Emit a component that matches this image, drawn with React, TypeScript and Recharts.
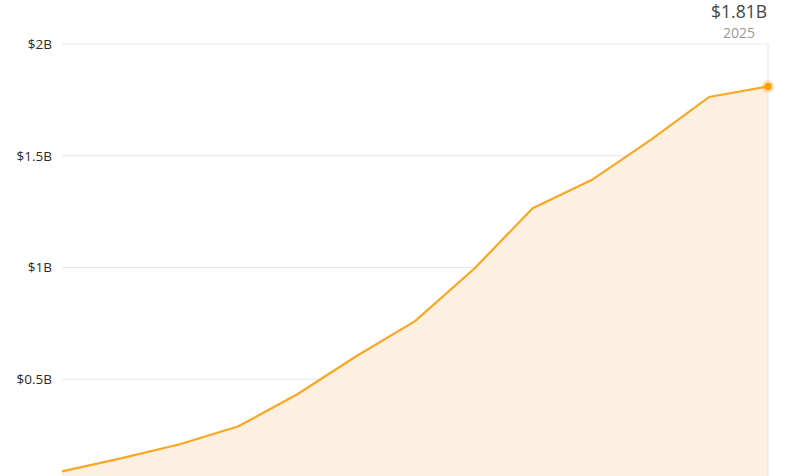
import React from 'react';
import { AreaChart, Area, XAxis, YAxis, CartesianGrid, ReferenceLine } from 'recharts';

const years = ['2013', '2014', '2015', '2016', '2017', '2018', '2019', '2020', '2021', '2022', '2023', '2024', '2025'];
const revenue = [0.088, 0.146, 0.209, 0.29, 0.433, 0.603, 0.76, 0.993, 1.265, 1.391, 1.57, 1.763, 1.81];
const yTicks = [0, 0.5, 1, 1.5, 2];

const data = years.map((year, i) => ({ year, value: revenue[i] }));

const LINE = '#F9A825';
const FILL = '#FDF0E0';

const formatTick = (v: number) => (v === 0 ? '' : `$${v}B`);

const LastDot = (props: any) => {
  const { cx, cy, index } = props;
  if (index !== data.length - 1) return <g key={`d-${index}`} />;
  return (
    <g key={`d-${index}`}>
      <circle cx={cx} cy={cy} r={6.5} fill={LINE} fillOpacity={0.3} />
      <circle cx={cx} cy={cy} r={3.8} fill="#FFA000" />
    </g>
  );
};

const PeakLabel = (props: any) => {
  const { viewBox } = props;
  const last = data[data.length - 1];
  return (
    <g>
      <text x={viewBox.x - 29} y={viewBox.y - 26} textAnchor="middle" fontSize={17.5} fill="#444" fontFamily="Open Sans">
        {`$${last.value}B`}
      </text>
      <text x={viewBox.x - 29} y={viewBox.y - 6} textAnchor="middle" fontSize={14} fill="#999" fontFamily="Open Sans">
        {last.year}
      </text>
    </g>
  );
};

const App: React.FC = () => {
  return (
    <div style={{ position: 'absolute', left: 0, top: 0, width: 787, height: 476, overflow: 'hidden', background: '#fff' }}>
      <AreaChart width={787} height={491} data={data} margin={{ top: 44, right: 19, left: 0, bottom: 0 }}>
        <CartesianGrid vertical={false} stroke="#e8e8e8" />
        <XAxis dataKey="year" hide padding={{ left: 0, right: 0 }} />
        <YAxis
          width={62}
          domain={[0, 2]}
          ticks={yTicks}
          tickFormatter={formatTick}
          axisLine={false}
          tickLine={false}
          tickSize={0}
          tickMargin={10}
          tick={{ fontSize: 13.5, fill: '#2b2b2b', fontFamily: 'Open Sans' }}
        />
        <ReferenceLine x="2025" stroke="#e6e6e6" label={<PeakLabel />} />
        <Area
          type="linear"
          dataKey="value"
          stroke={LINE}
          strokeWidth={2.2}
          fill={FILL}
          fillOpacity={1}
          dot={LastDot}
          activeDot={false}
          isAnimationActive={false}
        />
      </AreaChart>
    </div>
  );
};

export default App;
